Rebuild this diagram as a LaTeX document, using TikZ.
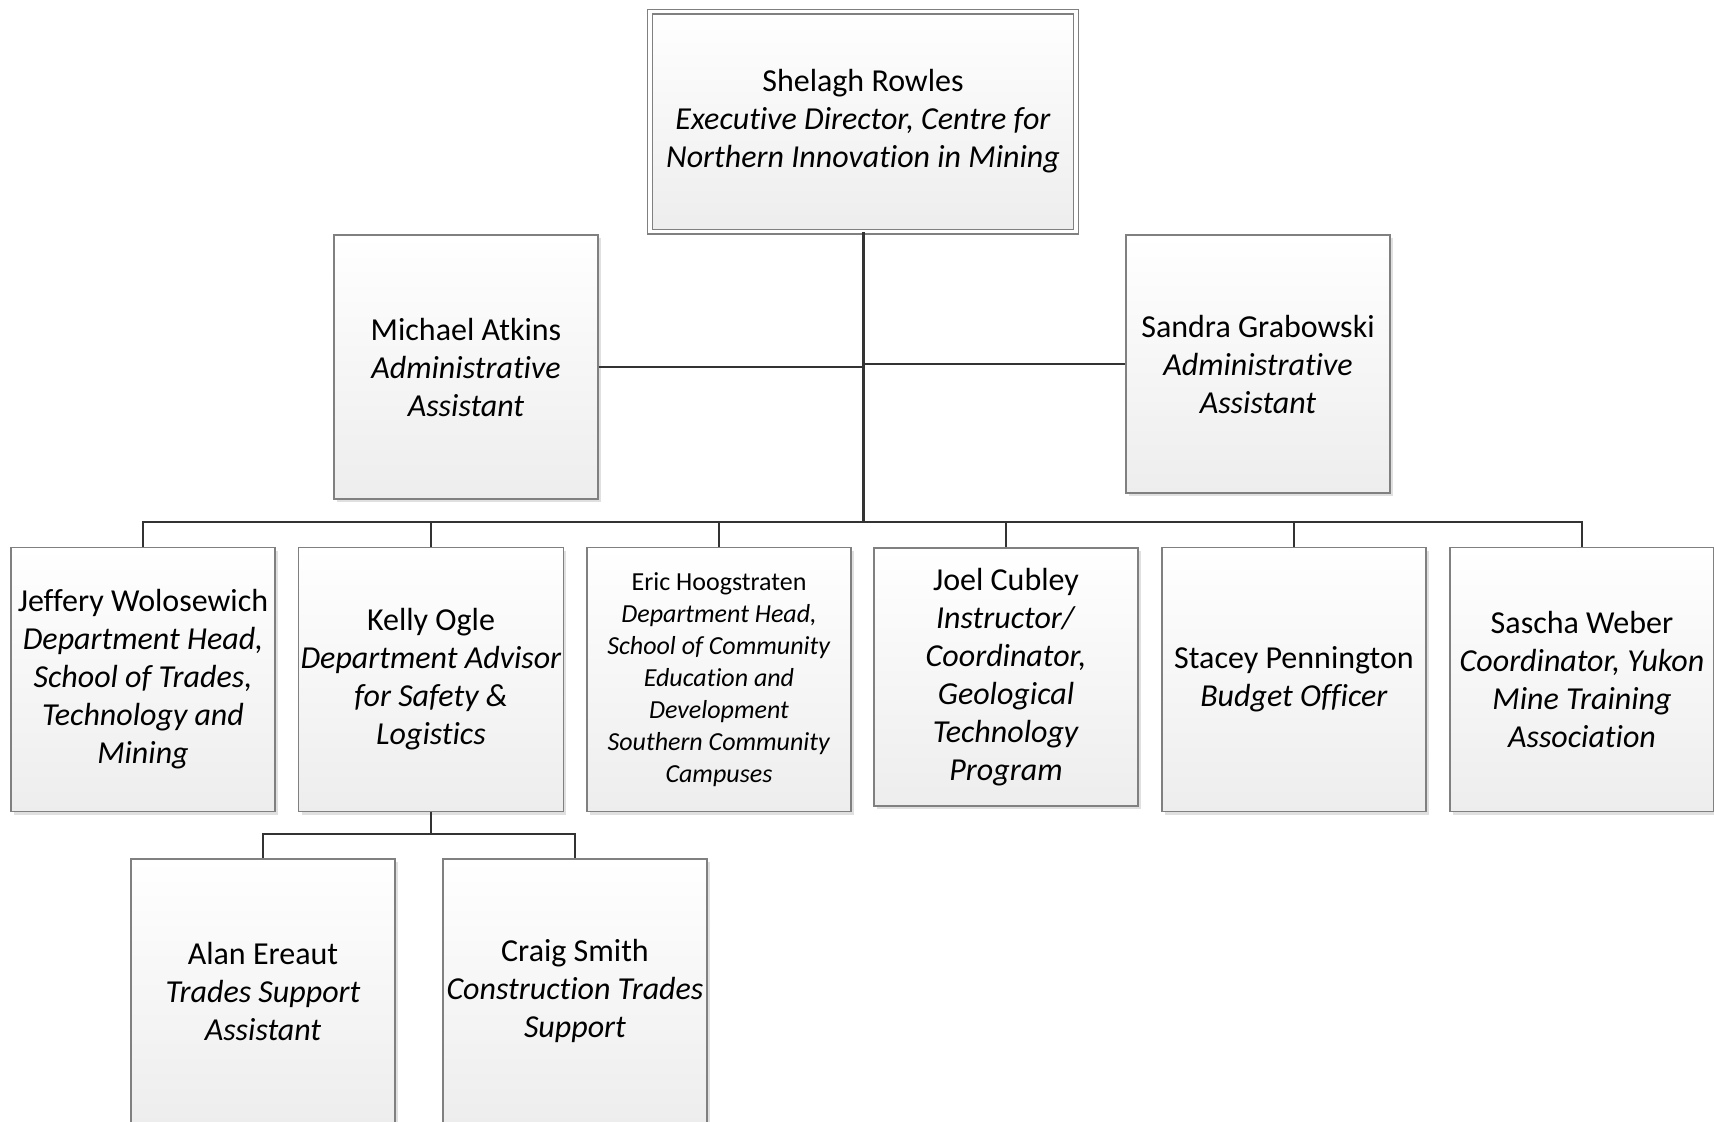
\documentclass[tikz,border=0pt]{standalone}
\usepackage{fontspec}
\setmainfont{Carlito}[Ligatures={NoCommon}]
\usetikzlibrary{shadows}

\newcommand{\boxw}{132pt}

\begin{document}
\begin{tikzpicture}[x=0.5pt, y=-0.5pt,
  member/.style={draw=black!50, line width=0.6pt, top color=white, bottom color=black!7,
    minimum width=\boxw, minimum height=\boxw, align=center, inner sep=1pt,
    font=\fontsize{16}{19}\selectfont,
    drop shadow={shadow xshift=1.5pt, shadow yshift=-1.5pt, fill=black!12, opacity=1}},
  head/.style={member, double=white, double distance=1.8pt, minimum width=213pt, minimum height=110pt},
  small/.style={font=\fontsize{13}{16}\selectfont},
  link/.style={draw=black!80, line width=1pt}]
  \useasboundingbox (0,0) rectangle (1714,1121);

  \node[head] (rowles) at (863,121.5) {Shelagh Rowles\\\textit{Executive Director, Centre for}\\\textit{Northern Innovation in Mining}};

  \node[member] (atkins) at (466,367) {Michael Atkins\\\textit{Administrative}\\\textit{Assistant}};
  \node[member, minimum height=129pt] (grabowski) at (1258,364) {Sandra Grabowski\\\textit{Administrative}\\\textit{Assistant}};

  \node[member] (wolosewich) at (143,679.5) {Jeffery Wolosewich\\\textit{Department Head,}\\\textit{School of Trades,}\\\textit{Technology and}\\\textit{Mining}};
  \node[member] (ogle) at (431,679.5) {Kelly Ogle\\\textit{Department Advisor}\\\textit{for Safety \&}\\\textit{Logistics}};
  \node[member, small] (hoogstraten) at (719,679.5) {Eric Hoogstraten\\\textit{Department Head,}\\\textit{School of Community}\\\textit{Education and}\\\textit{Development}\\\textit{Southern Community}\\\textit{Campuses}};
  \node[member, minimum height=129pt] (cubley) at (1006,677) {Joel Cubley\\\textit{Instructor/}\\\textit{Coordinator,}\\\textit{Geological}\\\textit{Technology}\\\textit{Program}};
  \node[member] (pennington) at (1294,679.5) {Stacey Pennington\\\textit{Budget Officer}};
  \node[member] (weber) at (1582,679.5) {Sascha Weber\\\textit{Coordinator, Yukon}\\\textit{Mine Training}\\\textit{Association}};

  \node[member] (ereaut) at (263,991) {Alan Ereaut\\\textit{Trades Support}\\\textit{Assistant}};
  \node[member] (smith) at (575,991) {Craig Smith\\\textit{Construction Trades}\\\textit{Support}};

  \coordinate (bus) at (863,522);
  \coordinate (subbus) at (431,834);

  \draw[link, line width=1.5pt] (rowles.south) -- (bus);
  \draw[link] (atkins.east) -- (atkins.east -| rowles.south);
  \draw[link] (grabowski.west) -- (grabowski.west -| rowles.south);
  \draw[link] (wolosewich.north) |- (bus) -| (weber.north);
  \foreach \n in {ogle,hoogstraten,cubley,pennington}
    \draw[link] (\n.north) -- (\n.north |- bus);
  \draw[link] (ogle.south) -- (subbus);
  \draw[link] (ereaut.north) |- (subbus) -| (smith.north);
\end{tikzpicture}
\end{document}
